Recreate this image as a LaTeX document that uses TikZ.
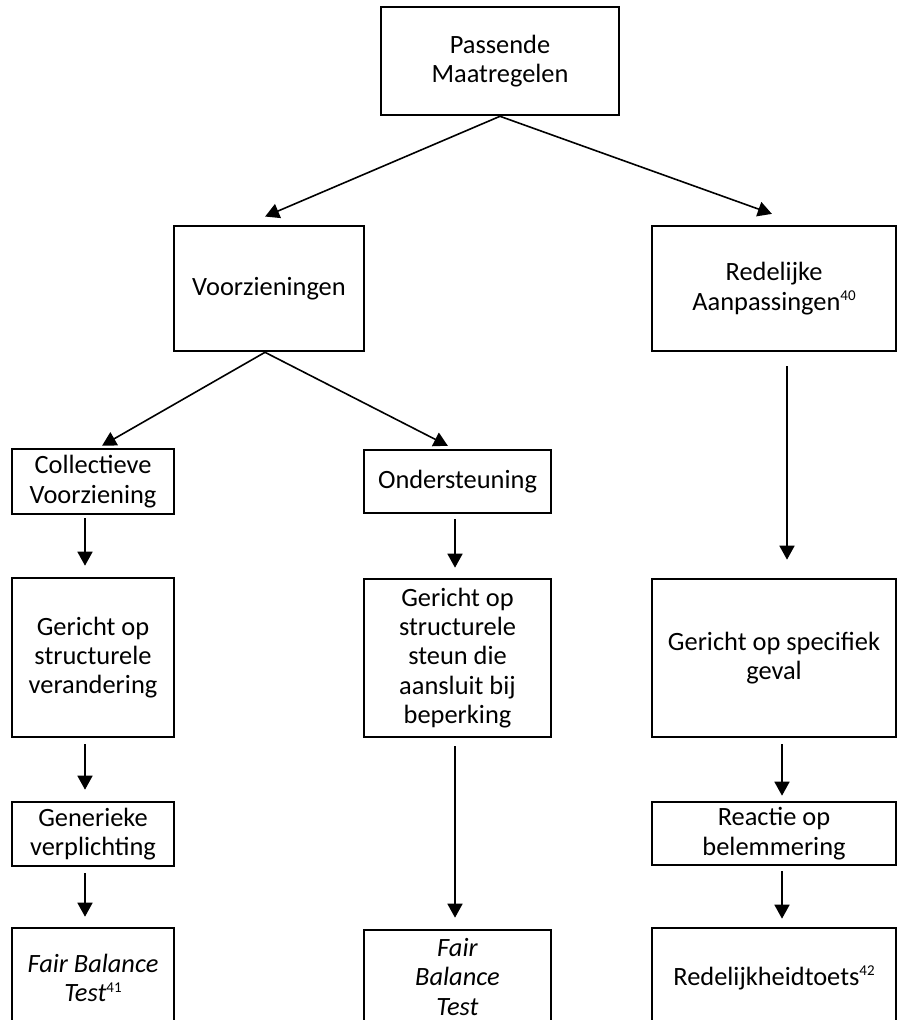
\documentclass[tikz,border=0pt]{standalone}
\usepackage{fontspec}
\setmainfont{Carlito}
\usetikzlibrary{arrows.meta}
\newcommand{\fnsup}[1]{\raisebox{0.75ex}{\fontsize{7.5}{7.5}\selectfont #1}}
\begin{document}
\begin{tikzpicture}[x=0.5pt,y=-0.5pt,
  box/.style={draw,line width=1.3pt,inner sep=0pt,align=center,
    font=\fontsize{13.2}{14.7}\selectfont},
  arr/.style={-{Triangle[length=7pt,width=7.5pt]},line width=0.8pt}]
\clip (0,0) rectangle (898,1020);
\useasboundingbox (0,0) rectangle (898,1020);
% nodes
\node[box,minimum width=119pt,minimum height=54pt] (top) at (500,61) {Passende\\Maatregelen};
\node[box,minimum width=95pt,minimum height=62.5pt] (voor) at (269,288.5) {Voorzieningen};
\node[box,minimum width=122pt,minimum height=62.5pt] (red) at (774,288.5) {Redelijke\\Aanpassingen\fnsup{40}};
\node[box,minimum width=81pt,minimum height=32.5pt] (coll) at (93,481.5) {Collectieve\\Voorziening};
\node[box,minimum width=93.5pt,minimum height=31.5pt] (onder) at (457.5,481.5) {Ondersteuning};
\node[box,minimum width=81pt,minimum height=79.5pt] (ger1) at (93,657.5) {Gericht op\\structurele\\verandering};
\node[box,minimum width=93.5pt,minimum height=79pt] (ger2) at (457.5,658) {Gericht op\\structurele\\steun die\\aansluit bij\\beperking};
\node[box,minimum width=122pt,minimum height=79pt] (ger3) at (774,658) {Gericht op specifiek\\geval};
\node[box,minimum width=81pt,minimum height=32pt] (gen) at (93,834) {Generieke\\verplichting};
\node[box,minimum width=122pt,minimum height=31.5pt] (reac) at (774,833.5) {Reactie op\\belemmering};
\node[box,minimum width=81pt,minimum height=50pt] (fb1) at (93,978) {\textit{Fair Balance}\\\textit{Test}\fnsup{41}};
\node[box,minimum width=93.5pt,minimum height=47pt] (fb2) at (457.5,977) {\textit{Fair}\\\textit{Balance}\\\textit{Test}};
\node[box,minimum width=122pt,minimum height=50pt] (fb3) at (774,978) {Redelijkheidtoets\fnsup{42}};
% diagonal connectors
\draw[arr,shorten >=10.4pt] (top.south) -- ([xshift=-11.5pt]voor.north);
\draw[arr,shorten >=16pt] (top.south) -- ([xshift=14pt]red.north);
\draw[arr,shorten >=2pt] ([xshift=-2pt]voor.south) -- ([xshift=2.8pt]coll.north);
\draw[arr,shorten >=3.2pt] ([xshift=-2pt]voor.south) -- ([xshift=-2pt]onder.north);
% vertical connectors
\draw[arr,shorten <=1.5pt,shorten >=5.5pt] ([xshift=-4pt]coll.south) -- ([xshift=-4pt]ger1.north);
\draw[arr,shorten <=3pt,shorten >=5.5pt] ([xshift=-4pt]ger1.south) -- ([xshift=-4pt]gen.north);
\draw[arr,shorten <=3pt,shorten >=5pt] ([xshift=-4pt]gen.south) -- ([xshift=-4pt]fb1.north);
\draw[arr,shorten <=2.5pt,shorten >=5pt] ([xshift=-1.25pt]onder.south) -- ([xshift=-1.25pt]ger2.north);
\draw[arr,shorten <=4pt,shorten >=5.5pt] ([xshift=-1.25pt]ger2.south) -- ([xshift=-1.25pt]fb2.north);
\draw[arr,shorten <=7pt,shorten >=9pt] ([xshift=6.5pt]red.south) -- ([xshift=6.5pt]ger3.north);
\draw[arr,shorten <=3pt,shorten >=2.5pt] ([xshift=4pt]ger3.south) -- ([xshift=4pt]reac.north);
\draw[arr,shorten <=2.5pt,shorten >=4pt] ([xshift=4pt]reac.south) -- ([xshift=4pt]fb3.north);
\end{tikzpicture}
\end{document}
